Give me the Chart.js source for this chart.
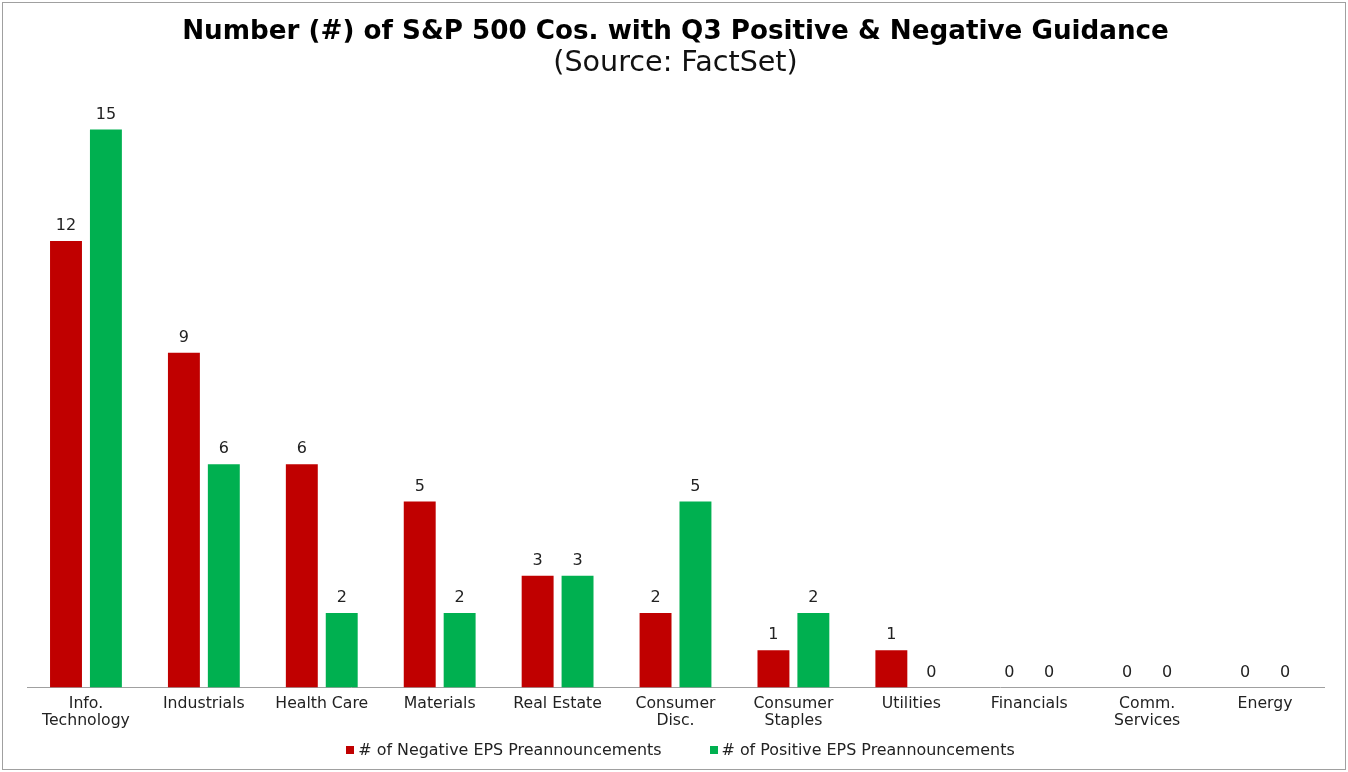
<!DOCTYPE html>
<html>
<head>
<meta charset="utf-8">
<script src="https://cdn.jsdelivr.net/npm/chart.js@4.4.1/dist/chart.umd.min.js"></script>
<style>
  html, body { margin: 0; padding: 0; background: #fff; }
  #wrap { position: relative; width: 1348px; height: 772px; }
  #frame { position: absolute; left: 2px; top: 2px; width: 1342px; height: 766px; border: 1px solid #a0a0a0; pointer-events: none; }
  canvas { display: block; }
</style>
</head>
<body>
<div id="wrap">
  <canvas id="c" width="1348" height="772"></canvas>
  <div id="frame"></div>
</div>
<script>
const categories = [
  ["Info.", "Technology"], "Industrials", "Health Care", "Materials", "Real Estate",
  ["Consumer", "Disc."], ["Consumer", "Staples"], "Utilities", "Financials",
  ["Comm.", "Services"], "Energy"
];
const negativeEPS = [12, 9, 6, 5, 3, 2, 1, 1, 0, 0, 0];
const positiveEPS = [15, 6, 2, 2, 3, 5, 2, 0, 0, 0, 0];
const seriesNames = ["# of Negative EPS Preannouncements", "# of Positive EPS Preannouncements"];
const seriesColors = ["#C00000", "#00B050"];
const titleText = "Number (#) of S&P 500 Cos. with Q3 Positive & Negative Guidance";
const subtitleText = "(Source: FactSet)";

const FONT = "'DejaVu Sans', sans-serif";
const TEXT = "#222222";

const valueLabels = {
  id: "valueLabels",
  afterDatasetsDraw(chart) {
    const ctx = chart.ctx;
    ctx.save();
    ctx.font = "16px " + FONT;
    ctx.fillStyle = TEXT;
    ctx.textAlign = "center";
    ctx.textBaseline = "middle";
    chart.data.datasets.forEach((ds, i) => {
      const meta = chart.getDatasetMeta(i);
      meta.data.forEach((el, j) => {
        ctx.fillText(String(ds.data[j]), el.x, el.y - 15);
      });
    });
    ctx.restore();
  }
};

// Bottom legend drawn from the dataset names/colours
const bottomLegend = {
  id: "bottomLegend",
  afterDraw(chart) {
    const ctx = chart.ctx;
    ctx.save();
    ctx.font = "15.9px " + FONT;
    const box = 8, gapText = 4, gapItems = 48;
    const items = chart.data.datasets.map(ds => ({ text: ds.label, color: ds.backgroundColor, w: ctx.measureText(ds.label).width }));
    let total = 0;
    items.forEach((it, i) => { total += box + gapText + it.w + (i < items.length - 1 ? gapItems : 0); });
    const cx = (chart.chartArea.left + chart.chartArea.right) / 2 + 5;
    const y = chart.chartArea.bottom + 63;
    let x = cx - total / 2;
    ctx.textBaseline = "middle";
    ctx.textAlign = "left";
    items.forEach(it => {
      ctx.fillStyle = it.color;
      ctx.fillRect(Math.round(x), Math.round(y - box / 2), box, box);
      ctx.fillStyle = TEXT;
      ctx.fillText(it.text, x + box + gapText, y);
      x += box + gapText + it.w + gapItems;
    });
    ctx.restore();
  }
};

new Chart(document.getElementById("c"), {
  type: "bar",
  data: {
    labels: categories,
    datasets: [
      { label: seriesNames[0], data: negativeEPS, backgroundColor: seriesColors[0],
        categoryPercentage: 0.677, barPercentage: 0.8 },
      { label: seriesNames[1], data: positiveEPS, backgroundColor: seriesColors[1],
        categoryPercentage: 0.677, barPercentage: 0.8 }
    ]
  },
  options: {
    responsive: false,
    animation: false,
    devicePixelRatio: 1,
    layout: { padding: { left: 27, right: 24, top: 0, bottom: 42 } },
    scales: {
      x: {
        grid: { display: false },
        border: { display: true, color: "#a0a0a0", width: 1 },
        ticks: { color: TEXT, font: { family: FONT, size: 15.7, lineHeight: 1.1 }, padding: 0, maxRotation: 0, autoSkip: false }
      },
      y: { display: false, min: 0, max: 16 }
    },
    plugins: {
      title: {
        display: true, text: titleText, color: "#000",
        font: { family: FONT, size: 26.2, weight: "bold", lineHeight: 1.0 },
        padding: { top: 19, bottom: 4 }
      },
      subtitle: {
        display: true, text: subtitleText, color: "#111",
        font: { family: FONT, size: 28.6, weight: "normal", lineHeight: 1.0 },
        padding: { top: 0, bottom: 14.5 }
      },
      legend: { display: false },
      tooltip: { enabled: false }
    }
  },
  plugins: [valueLabels, bottomLegend]
});
</script>
</body>
</html>
